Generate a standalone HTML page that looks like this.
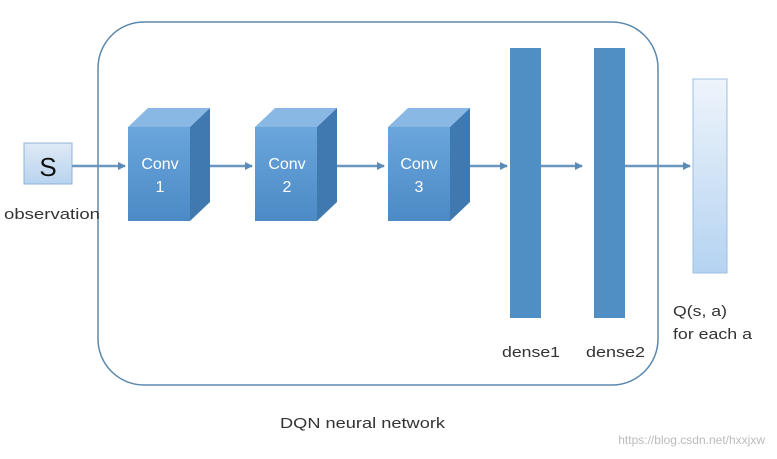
<!DOCTYPE html>
<html><head><style>
body{margin:0;background:#fff;}
svg{display:block;font-family:"Liberation Sans",sans-serif;}
</style></head><body>
<svg width="777" height="459" viewBox="0 0 777 459" xmlns="http://www.w3.org/2000/svg">
<defs>
<marker id="ar" markerWidth="8" markerHeight="8" refX="7" refY="4" orient="auto" markerUnits="userSpaceOnUse"><path d="M0,0 L8,4 L0,8 z" fill="#5a8bb6"/></marker>
<linearGradient id="q" x1="0" y1="0" x2="0" y2="1"><stop offset="0" stop-color="#eef4fb"/><stop offset="1" stop-color="#b5d3f1"/></linearGradient>
<linearGradient id="sg" x1="0" y1="0" x2="0" y2="1"><stop offset="0" stop-color="#dfeaf6"/><stop offset="1" stop-color="#b8d3ee"/></linearGradient>
<linearGradient id="ff" x1="0" y1="0" x2="0" y2="1"><stop offset="0" stop-color="#6aa6dc"/><stop offset="1" stop-color="#4c8ac6"/></linearGradient>
</defs>
<rect x="98" y="22" width="560" height="363" rx="46" fill="none" stroke="#5b88ad" stroke-width="1.5"/>
<rect x="24" y="143" width="48" height="41" fill="url(#sg)" stroke="#8fb3d6"/>
<text x="48" y="176" font-size="26" text-anchor="middle" fill="#111">S</text>
<text x="4" y="219" font-size="15" fill="#333" textLength="96" lengthAdjust="spacingAndGlyphs">observation</text>
<g stroke="#6b96bd" stroke-width="2.5" marker-end="url(#ar)">
<line x1="72" y1="166" x2="125" y2="166"/>
<line x1="210" y1="166" x2="252" y2="166"/>
<line x1="337" y1="166" x2="384" y2="166"/>
<line x1="470" y1="166" x2="507" y2="166"/>
<line x1="541" y1="166" x2="582" y2="166"/>
<line x1="625" y1="166" x2="690" y2="166"/>
</g>
<g>
<polygon points="128,127 148,108 210,108 190,127" fill="#8ab8e4"/>
<polygon points="190,127 210,108 210,202 190,221" fill="#3f79b0"/>
<rect x="128" y="127" width="62" height="94" fill="url(#ff)"/>
<text x="160" y="169" font-size="16" fill="#fff" text-anchor="middle">Conv</text>
<text x="160" y="192" font-size="16" fill="#fff" text-anchor="middle">1</text>
</g>
<g>
<polygon points="255,127 275,108 337,108 317,127" fill="#8ab8e4"/>
<polygon points="317,127 337,108 337,202 317,221" fill="#3f79b0"/>
<rect x="255" y="127" width="62" height="94" fill="url(#ff)"/>
<text x="287" y="169" font-size="16" fill="#fff" text-anchor="middle">Conv</text>
<text x="287" y="192" font-size="16" fill="#fff" text-anchor="middle">2</text>
</g>
<g>
<polygon points="388,127 408,108 470,108 450,127" fill="#8ab8e4"/>
<polygon points="450,127 470,108 470,202 450,221" fill="#3f79b0"/>
<rect x="388" y="127" width="62" height="94" fill="url(#ff)"/>
<text x="419" y="169" font-size="16" fill="#fff" text-anchor="middle">Conv</text>
<text x="419" y="192" font-size="16" fill="#fff" text-anchor="middle">3</text>
</g>
<rect x="510" y="48" width="31" height="270" fill="#4f8fc3"/>
<rect x="594" y="48" width="31" height="270" fill="#4f8fc3"/>
<rect x="693" y="79" width="34" height="194" fill="url(#q)" stroke="#9dbfdf"/>
<text x="502" y="357" font-size="15" fill="#333" textLength="58" lengthAdjust="spacingAndGlyphs">dense1</text>
<text x="586" y="357" font-size="15" fill="#333" textLength="59" lengthAdjust="spacingAndGlyphs">dense2</text>
<text x="673" y="316" font-size="15" fill="#333" textLength="54" lengthAdjust="spacingAndGlyphs">Q(s, a)</text>
<text x="673" y="339" font-size="15" fill="#333" textLength="79" lengthAdjust="spacingAndGlyphs">for each a</text>
<text x="280" y="428" font-size="15" fill="#333" textLength="165" lengthAdjust="spacingAndGlyphs">DQN neural network</text>
<text x="765" y="444" font-size="12" fill="#bbb" text-anchor="end">https://blog.csdn.net/hxxjxw</text>
</svg>
</body></html>
